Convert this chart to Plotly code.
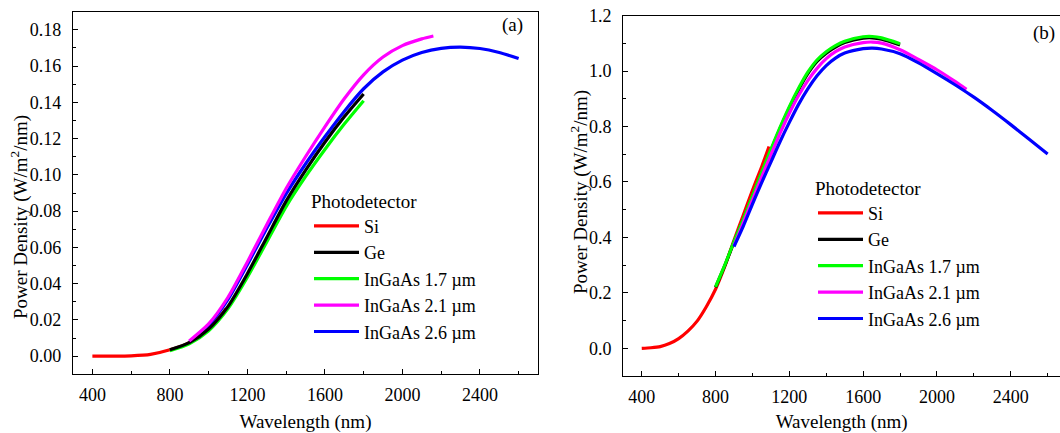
import plotly.graph_objects as go

# ---------------- Data ----------------
series_names = ["Si", "Ge", "InGaAs 1.7 \u00b5m", "InGaAs 2.1 \u00b5m", "InGaAs 2.6 \u00b5m"]
series_colors = ["#FF0000", "#000000", "#00FF00", "#FF00FF", "#0000FF"]

# Panel (a)
a_si_x = [400, 500, 600, 700, 800, 900, 1000, 1090]
a_si_y = [0.0, 0.00003, 0.0002, 0.0010, 0.0035, 0.0075, 0.0150, 0.0262]
a_ge_x = [800, 900, 1000, 1100, 1200, 1300, 1400, 1500, 1600, 1700, 1800]
a_ge_y = [0.0035, 0.0075, 0.0150, 0.0275, 0.0455, 0.0655, 0.0855, 0.1025, 0.1180, 0.1320, 0.1446]
a_i17_x = [800, 900, 1000, 1100, 1200, 1300, 1400, 1500, 1600, 1700, 1800]
a_i17_y = [0.0030, 0.0068, 0.0140, 0.0262, 0.0435, 0.0630, 0.0825, 0.0990, 0.1140, 0.1280, 0.1409]
a_i21_x = [900, 1000, 1100, 1200, 1300, 1400, 1500, 1600, 1700, 1800, 1900, 2000, 2100, 2160]
a_i21_y = [0.0084, 0.0178, 0.0325, 0.0520, 0.0725, 0.0925, 0.1100, 0.1265, 0.1420, 0.1552, 0.1650, 0.1713,
           0.1750, 0.1766]
a_i26_x = [900, 1000, 1100, 1200, 1300, 1400, 1500, 1600, 1700, 1800, 1900, 2000, 2100, 2200, 2300, 2400, 2500, 2600]
a_i26_y = [0.0077, 0.0170, 0.0313, 0.0505, 0.0705, 0.0895, 0.1060, 0.1210, 0.1350, 0.1475, 0.1568, 0.1633,
           0.1675, 0.1698, 0.1705, 0.1697, 0.1675, 0.1642]

# Panel (b)
b_si_x = [400, 450, 500, 550, 600, 650, 700, 750, 800, 850, 900, 950, 1000, 1050, 1090]
b_si_y = [0.0, 0.002, 0.006, 0.017, 0.035, 0.062, 0.098, 0.150, 0.213, 0.295, 0.390, 0.480, 0.570, 0.655, 0.728]
b_ge_x = [800, 850, 900, 950, 1000, 1050, 1100, 1150, 1200, 1250, 1300, 1350, 1400, 1450, 1500, 1600, 1650, 1700, 1800]
b_ge_y = [0.220, 0.298, 0.383, 0.463, 0.547, 0.631, 0.713, 0.793, 0.867, 0.933, 0.991, 1.035, 1.065, 1.087,
          1.103, 1.119, 1.120, 1.115, 1.094]
b_i17_x = [800, 850, 900, 950, 1000, 1050, 1100, 1150, 1200, 1250, 1300, 1350, 1400, 1450, 1500, 1600, 1650, 1700, 1800]
b_i17_y = [0.222, 0.300, 0.385, 0.465, 0.550, 0.635, 0.718, 0.798, 0.872, 0.938, 0.996, 1.040, 1.070, 1.092,
           1.108, 1.124, 1.125, 1.120, 1.099]
b_i21_x = [900, 950, 1000, 1050, 1100, 1150, 1200, 1250, 1300, 1350, 1400, 1450, 1500, 1600, 1650, 1700, 1800,
           1900, 2000, 2100, 2160]
b_i21_y = [0.370, 0.452, 0.535, 0.618, 0.698, 0.776, 0.848, 0.912, 0.966, 1.010, 1.045, 1.070, 1.087, 1.103,
           1.105, 1.101, 1.077, 1.042, 1.005, 0.962, 0.934]
b_i26_x = [900, 950, 1000, 1050, 1100, 1150, 1200, 1250, 1300, 1350, 1400, 1450, 1500, 1600, 1650, 1700, 1800,
           1900, 2000, 2100, 2200, 2300, 2400, 2500, 2600]
b_i26_y = [0.367, 0.440, 0.520, 0.598, 0.672, 0.746, 0.815, 0.880, 0.936, 0.983, 1.020, 1.047, 1.065, 1.081,
           1.083, 1.080, 1.063, 1.030, 0.991, 0.950, 0.906, 0.858, 0.807, 0.754, 0.701]

x_ticks = [400, 800, 1200, 1600, 2000, 2400]
a_y_ticks = [0.00, 0.02, 0.04, 0.06, 0.08, 0.10, 0.12, 0.14, 0.16, 0.18]
b_y_ticks = [0.0, 0.2, 0.4, 0.6, 0.8, 1.0, 1.2]

a_series = [(a_si_x, a_si_y), (a_ge_x, a_ge_y), (a_i17_x, a_i17_y), (a_i21_x, a_i21_y), (a_i26_x, a_i26_y)]
b_series = [(b_si_x, b_si_y), (b_ge_x, b_ge_y), (b_i17_x, b_i17_y), (b_i21_x, b_i21_y), (b_i26_x, b_i26_y)]

# drawing order (legend order kept by legendrank)
a_order = [0, 2, 4, 1, 3]
b_order = [0, 1, 2, 3, 4]

FONT = "Liberation Serif, 'Times New Roman', serif"
W, H = 1060, 433
LW = 3.2

fig = go.Figure()
for i in a_order:
    xs, ys = a_series[i]
    fig.add_trace(go.Scatter(x=xs, y=ys, mode="lines", name=series_names[i],
                             line=dict(color=series_colors[i], width=LW, shape="spline", smoothing=0.7),
                             xaxis="x", yaxis="y", legend="legend", legendrank=i + 1))
for i in b_order:
    xs, ys = b_series[i]
    fig.add_trace(go.Scatter(x=xs, y=ys, mode="lines", name=series_names[i],
                             line=dict(color=series_colors[i], width=LW, shape="spline", smoothing=0.7),
                             xaxis="x2", yaxis="y2", legend="legend2", legendrank=i + 1))

axis_common = dict(showline=True, linecolor="black", linewidth=1.3, mirror=True,
                   ticks="inside", ticklen=5, tickwidth=1.2, tickcolor="black",
                   showgrid=False, zeroline=False, automargin=False,
                   tickfont=dict(family=FONT, size=18, color="black"))

def px_x(p):
    return p / W

def px_y(p):
    return 1 - p / H

fig.update_layout(
    width=W, height=H,
    margin=dict(l=0, r=0, t=0, b=0, pad=0, autoexpand=False),
    paper_bgcolor="white", plot_bgcolor="white",
    font=dict(family=FONT, size=18, color="black"),
    xaxis=dict(domain=[px_x(73), px_x(538)], range=[300, 2700], tickvals=x_ticks,
               minor=dict(ticks="inside", ticklen=3, dtick=200, tick0=400, tickcolor="black"),
               title=dict(text="Wavelength (nm)", font=dict(family=FONT, size=19), standoff=12),
               ticklabelstandoff=4, anchor="y", **axis_common),
    yaxis=dict(domain=[px_y(374.3), px_y(11.7)], range=[-0.01, 0.19], tickvals=a_y_ticks,
               tickformat=".2f",
               minor=dict(ticks="inside", ticklen=3, dtick=0.01, tick0=0, tickcolor="black"),
               ticklabelstandoff=7, anchor="x", **axis_common),
    xaxis2=dict(domain=[px_x(623.3), 1.0], range=[300, 2667], tickvals=x_ticks,
                minor=dict(ticks="inside", ticklen=3, dtick=200, tick0=400, tickcolor="black"),
                title=dict(text="Wavelength (nm)", font=dict(family=FONT, size=19), standoff=12),
                ticklabelstandoff=4, anchor="y2", **axis_common),
    yaxis2=dict(domain=[px_y(376), px_y(15.7)], range=[-0.1, 1.2], tickvals=b_y_ticks,
                tickformat=".1f",
                minor=dict(ticks="inside", ticklen=3, dtick=0.1, tick0=0, tickcolor="black"),
                ticklabelstandoff=7, anchor="x2",
                **{**axis_common, "mirror": False}),
    legend=dict(x=px_x(309), y=px_y(183), xanchor="left", yanchor="top",
                title=dict(text="Photodetector", font=dict(family=FONT, size=19)),
                font=dict(family=FONT, size=18), bgcolor="rgba(0,0,0,0)",
                itemwidth=45, tracegroupgap=0),
    legend2=dict(x=px_x(813), y=px_y(170), xanchor="left", yanchor="top",
                 title=dict(text="Photodetector", font=dict(family=FONT, size=19)),
                 font=dict(family=FONT, size=18), bgcolor="rgba(0,0,0,0)",
                 itemwidth=45, tracegroupgap=0),
    showlegend=True,
)

ytitle = "Power Density (W/m<sup>2</sup>/nm)"
fig.add_annotation(text=ytitle, textangle=-90, xref="paper", yref="paper",
                   x=px_x(19), y=px_y(217), xanchor="center", yanchor="middle",
                   showarrow=False, font=dict(family=FONT, size=19, color="black"))
fig.add_annotation(text=ytitle, textangle=-90, xref="paper", yref="paper",
                   x=px_x(580), y=px_y(192), xanchor="center", yanchor="middle",
                   showarrow=False, font=dict(family=FONT, size=19, color="black"))
fig.add_annotation(text="(a)", xref="paper", yref="paper", x=px_x(512), y=px_y(25),
                   xanchor="center", yanchor="middle", showarrow=False,
                   font=dict(family=FONT, size=19, color="black"))
fig.add_annotation(text="(b)", xref="paper", yref="paper", x=px_x(1044), y=px_y(33.5),
                   xanchor="center", yanchor="middle", showarrow=False,
                   font=dict(family=FONT, size=19, color="black"))

fig.write_html("out.html")
